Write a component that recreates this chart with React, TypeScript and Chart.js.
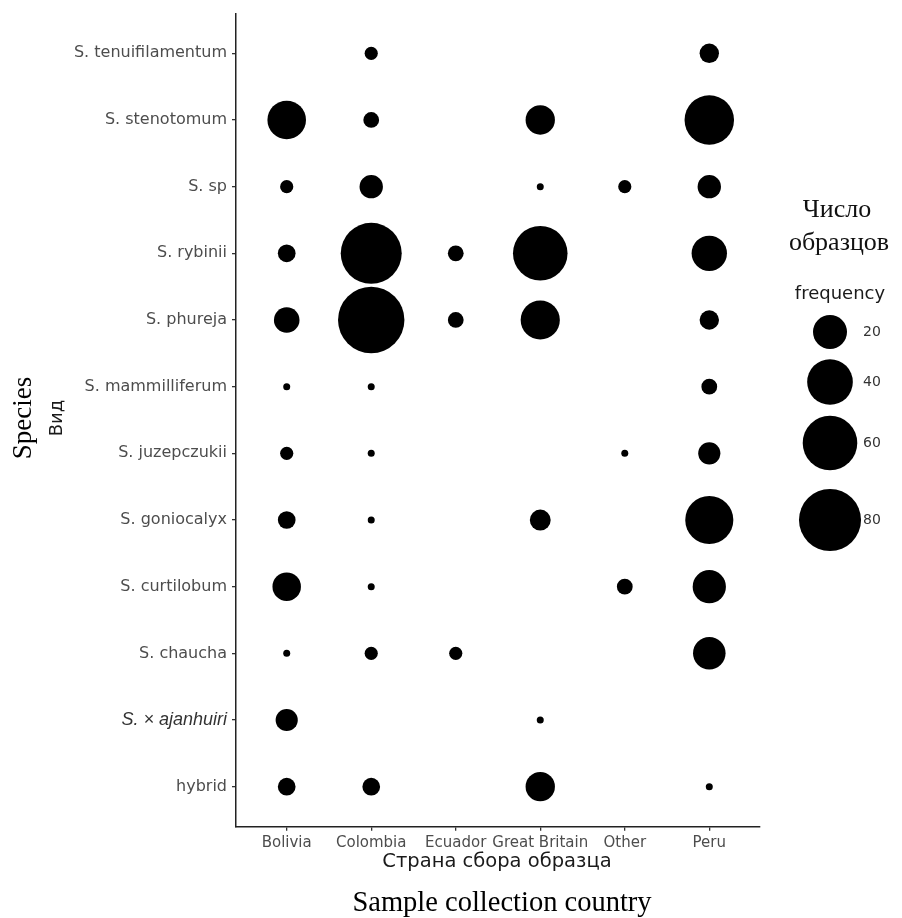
import React, { useEffect, useRef } from "react";
import { Chart, registerables } from "chart.js";

Chart.register(...registerables);

// ---- data ----
const countries = ["Bolivia", "Colombia", "Ecuador", "Great Britain", "Other", "Peru"];
const species = [
  "S. tenuifilamentum",
  "S. stenotomum",
  "S. sp",
  "S. rybinii",
  "S. phureja",
  "S. mammilliferum",
  "S. juzepczukii",
  "S. goniocalyx",
  "S. curtilobum",
  "S. chaucha",
  "S. × ajanhuiri",
  "hybrid",
];
// frequency per country (Bolivia, Colombia, Ecuador, Great Britain, Other, Peru); 0 = no samples
const tenuifilamentum = [0, 2, 0, 0, 0, 5];
const stenotomum = [27, 3, 0, 14, 0, 48];
const sp = [2, 8, 0, 1, 2, 8];
const rybinii = [4, 77, 3, 60, 0, 22];
const phureja = [10, 93, 3, 28, 0, 5];
const mammilliferum = [1, 1, 0, 0, 0, 3];
const juzepczukii = [2, 1, 0, 0, 1, 7];
const goniocalyx = [4, 1, 0, 6, 0, 45];
const curtilobum = [13, 1, 0, 0, 3, 19];
const chaucha = [1, 2, 2, 0, 0, 18];
const ajanhuiri = [7, 0, 0, 1, 0, 0];
const hybrid = [4, 4, 0, 14, 0, 1];
const legendValues = [20, 40, 60, 80];

const rows = [
  tenuifilamentum, stenotomum, sp, rybinii, phureja, mammilliferum,
  juzepczukii, goniocalyx, curtilobum, chaucha, ajanhuiri, hybrid,
];

// size scale (area-style, like ggplot scale_size)
const sizeOf = (v: number) => 3.5 + 3.097 * Math.sqrt(Math.max(v - 1, 0));

const W = 902;
const H = 918;
const PLOT_LEFT = 236;
const PLOT_RIGHT = 760;
const PLOT_TOP = 13.3;
const PLOT_BOTTOM = 826.7;

const extraText = {
  id: "extraText",
  afterDraw(chart: any) {
    const ctx = chart.ctx as CanvasRenderingContext2D;
    ctx.save();
    ctx.textAlign = "center";
    ctx.textBaseline = "middle";
    // Y titles
    ctx.save();
    ctx.translate(24, 418);
    ctx.rotate(-Math.PI / 2);
    ctx.fillStyle = "#000";
    ctx.font = '27px "Liberation Serif"';
    ctx.fillText("Species", 0, 0);
    ctx.restore();
    ctx.save();
    ctx.translate(57, 418);
    ctx.rotate(-Math.PI / 2);
    ctx.fillStyle = "#1a1a1a";
    ctx.font = '18px "DejaVu Sans"';
    ctx.fillText("Вид", 0, 0);
    ctx.restore();
    // X titles
    ctx.fillStyle = "#1a1a1a";
    ctx.font = '19.5px "DejaVu Sans"';
    ctx.fillText("Страна сбора образца", 497, 862);
    ctx.fillStyle = "#000";
    ctx.font = '28.5px "Liberation Serif"';
    ctx.fillText("Sample collection country", 502, 904);
    // Legend
    ctx.fillStyle = "#111";
    ctx.font = '26px "Liberation Serif"';
    ctx.fillText("Число", 837, 210);
    ctx.fillText("образцов", 839, 243);
    ctx.fillStyle = "#1a1a1a";
    ctx.font = '18px "DejaVu Sans"';
    ctx.fillText("frequency", 840, 294);
    const keyY = [332, 382, 443, 520];
    legendValues.forEach((v, i) => {
      ctx.fillStyle = "#000";
      ctx.beginPath();
      ctx.arc(830, keyY[i], sizeOf(v), 0, Math.PI * 2);
      ctx.fill();
      ctx.fillStyle = "#333";
      ctx.font = '14px "DejaVu Sans"';
      ctx.textAlign = "left";
      ctx.fillText(String(v), 863, keyY[i]);
      ctx.textAlign = "center";
    });
    ctx.restore();
  },
};

export default function App() {
  const ref = useRef<HTMLCanvasElement>(null);
  useEffect(() => {
    if (!ref.current) return;
    const points: { x: number; y: number; r: number; v: number }[] = [];
    rows.forEach((row, yi) => {
      row.forEach((v, xi) => {
        if (v > 0) points.push({ x: xi, y: yi, r: sizeOf(v), v });
      });
    });
    const chart = new Chart(ref.current, {
      type: "bubble",
      data: {
        datasets: [
          {
            label: "frequency",
            data: points,
            backgroundColor: "#000",
            borderWidth: 0,
            hoverBorderWidth: 0,
            hoverRadius: 0,
          },
        ],
      },
      options: {
        responsive: false,
        animation: false,
        events: [],
        layout: {
          autoPadding: false,
          padding: { top: PLOT_TOP, right: W - PLOT_RIGHT, left: 0, bottom: 0 },
        },
        plugins: {
          legend: { display: false },
          tooltip: { enabled: false },
        },
        scales: {
          x: {
            type: "linear",
            min: -0.6,
            max: countries.length - 1 + 0.6,
            afterBuildTicks: (scale: any) => {
              scale.ticks = countries.map((_, i) => ({ value: i }));
            },
            afterFit: (scale: any) => {
              scale.height = H - PLOT_BOTTOM;
              scale.paddingLeft = 0;
              scale.paddingRight = 0;
            },
            ticks: {
              autoSkip: false,
              maxRotation: 0,
              padding: 3,
              color: "#4d4d4d",
              font: { family: "DejaVu Sans", size: 15 },
              callback: (v: any) => countries[Math.round(Number(v))] ?? "",
            },
            grid: {
              drawOnChartArea: false,
              drawTicks: true,
              tickLength: 4,
              color: "#333",
              lineWidth: 1.3,
            },
            border: { display: true, color: "#222", width: 1.5 },
          },
          y: {
            type: "linear",
            reverse: true,
            min: -0.6,
            max: species.length - 1 + 0.6,
            afterBuildTicks: (scale: any) => {
              scale.ticks = species.map((_, i) => ({ value: i }));
            },
            afterFit: (scale: any) => {
              scale.width = PLOT_LEFT;
              scale.paddingTop = 0;
              scale.paddingBottom = 0;
            },
            ticks: {
              autoSkip: false,
              padding: 5,
              color: (c: any) => (c.tick && c.tick.value === 10 ? "#333" : "#4d4d4d"),
              font: (c: any) =>
                c.tick && c.tick.value === 10
                  ? { family: "Liberation Sans", size: 18, style: "italic" }
                  : { family: "DejaVu Sans", size: 16 },
              callback: (v: any) => species[Math.round(Number(v))] ?? "",
            },
            grid: {
              drawOnChartArea: false,
              drawTicks: true,
              tickLength: 4,
              color: "#333",
              lineWidth: 1.3,
            },
            border: { display: true, color: "#222", width: 1.5 },
          },
        },
      },
      plugins: [extraText],
    });
    return () => chart.destroy();
  }, []);
  return (
    <div style={{ position: "absolute", left: 0, top: 0, width: W, height: H, background: "#fff" }}>
      <canvas ref={ref} width={W} height={H} style={{ display: "block" }} />
    </div>
  );
}
